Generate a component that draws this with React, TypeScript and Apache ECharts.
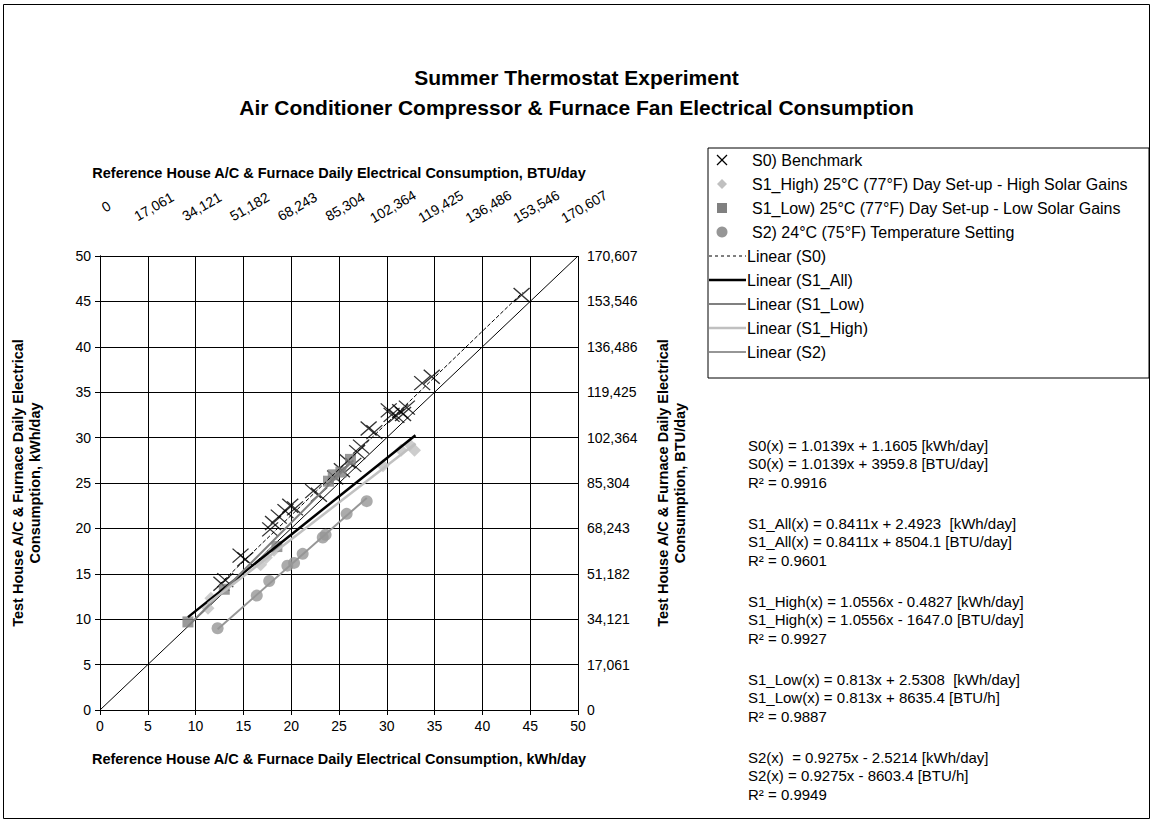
import React, { useEffect, useRef } from "react";
import * as echarts from "echarts";

const FONT = "'Liberation Sans', Arial, Helvetica, sans-serif";

const kwhTicks = ["0", "5", "10", "15", "20", "25", "30", "35", "40", "45", "50"];
const btuLabels = ["0", "17,061", "34,121", "51,182", "68,243", "85,304", "102,364", "119,425", "136,486", "153,546", "170,607"];

const s0Points = [
  [12.7, 13.9], [13.1, 14.3], [14.7, 17.0], [15.2, 16.6], [17.8, 19.9], [18.1, 20.6],
  [18.7, 21.3], [19.4, 21.9], [19.9, 22.5], [20.4, 22.2], [22.3, 24.1], [22.9, 23.7],
  [24.6, 25.6], [25.3, 26.4], [25.9, 27.4], [26.5, 27.0], [26.9, 28.4], [27.3, 29.0],
  [28.1, 31.0], [28.7, 30.6], [30.2, 33.0], [30.5, 32.5], [31.0, 32.4], [31.4, 32.9],
  [31.7, 32.6], [32.1, 33.3], [33.7, 36.0], [34.7, 36.7], [44.1, 45.7],
];
const s1HighPoints = [
  [11.3, 11.2], [11.6, 12.3], [16.8, 16.0], [17.4, 16.8], [18.2, 17.6],
  [29.6, 26.9], [31.5, 28.6], [32.4, 29.2], [32.9, 28.6],
];
const s1LowPoints = [
  [9.2, 9.7], [13.0, 13.3], [18.5, 18.0], [23.9, 25.2], [24.4, 25.9], [25.2, 26.2], [26.2, 27.6],
];
const s2Points = [
  [12.3, 9.0], [16.4, 12.6], [17.7, 14.2], [19.6, 15.9], [20.3, 16.2], [21.2, 17.2],
  [23.3, 19.0], [23.6, 19.3], [25.8, 21.6], [27.9, 23.0],
];
const parityLine = [[0, 0], [50, 50]];

const trendNames = ["Linear (S0)", "Linear (S1_All)", "Linear (S1_Low)", "Linear (S1_High)", "Linear (S2)"];
const trendSlopes = [1.0139, 0.8411, 1.0556, 0.813, 0.9275];
const trendIntercepts = [1.1605, 2.4923, -0.4827, 2.5308, -2.5214];
const trendXStart = [12.5, 9.2, 9.2, 11.3, 12.3];
const trendXEnd = [44.2, 33.0, 26.5, 33.0, 27.9];
const trendColors = ["#000000", "#000000", "#808080", "#c0c0c0", "#969696"];
const trendWidths = [1, 2.5, 2, 2.5, 2];
const trendTypes = ["dashed", "solid", "solid", "solid", "solid"];

const markerNames = [
  "S0) Benchmark",
  "S1_High) 25°C (77°F) Day Set-up - High Solar Gains",
  "S1_Low) 25°C (77°F) Day Set-up - Low Solar Gains",
  "S2) 24°C (75°F) Temperature Setting",
];

const equationGroups = [
  ["S0(x) = 1.0139x + 1.1605 [kWh/day]", "S0(x) = 1.0139x + 3959.8 [BTU/day]", "R² = 0.9916"],
  ["S1_All(x) = 0.8411x + 2.4923  [kWh/day]", "S1_All(x) = 0.8411x + 8504.1 [BTU/day]", "R² = 0.9601"],
  ["S1_High(x) = 1.0556x - 0.4827 [kWh/day]", "S1_High(x) = 1.0556x - 1647.0 [BTU/day]", "R² = 0.9927"],
  ["S1_Low(x) = 0.813x + 2.5308  [kWh/day]", "S1_Low(x) = 0.813x + 8635.4 [BTU/h]", "R² = 0.9887"],
  ["S2(x)  = 0.9275x - 2.5214 [kWh/day]", "S2(x) = 0.9275x - 8603.4 [BTU/h]", "R² = 0.9949"],
];

const XPATH = "path://M0,0L10,10M10,0L0,10";

function buildOption() {
  const tickIdx = (v: number) => Math.round(v / 5);
  const axisCommon = {
    type: "value",
    min: 0,
    max: 50,
    interval: 5,
    axisLine: { show: true, lineStyle: { color: "#000", width: 1 } },
    axisTick: { show: true, length: 5, lineStyle: { color: "#000" } },
    nameTextStyle: { fontWeight: "bold", fontSize: 14.5, color: "#000", fontFamily: FONT, lineHeight: 17 },
  };
  const labelCommon = { color: "#000", fontSize: 14, fontFamily: FONT };

  const series: any[] = [];
  series.push({
    type: "line",
    data: parityLine,
    symbol: "none",
    lineStyle: { color: "#000", width: 1 },
    z: 3,
    silent: true,
  });
  series.push({
    name: markerNames[0],
    type: "scatter",
    data: s0Points,
    symbol: XPATH,
    symbolSize: [16, 14],
    itemStyle: { color: "rgba(0,0,0,0)", borderColor: "#000", borderWidth: 1.3 },
    z: 4,
  });
  series.push({
    name: markerNames[1],
    type: "scatter",
    data: s1HighPoints,
    symbol: "diamond",
    symbolSize: 13,
    itemStyle: { color: "#c0c0c0" },
    z: 4,
  });
  series.push({
    name: markerNames[2],
    type: "scatter",
    data: s1LowPoints,
    symbol: "rect",
    symbolSize: 11,
    itemStyle: { color: "#808080" },
    z: 4,
  });
  series.push({
    name: markerNames[3],
    type: "scatter",
    data: s2Points,
    symbol: "circle",
    symbolSize: 12,
    itemStyle: { color: "#969696" },
    z: 4,
  });
  trendNames.forEach((n, i) => {
    const m = trendSlopes[i];
    const b = trendIntercepts[i];
    series.push({
      name: n,
      type: "line",
      data: [
        [trendXStart[i], m * trendXStart[i] + b],
        [trendXEnd[i], m * trendXEnd[i] + b],
      ],
      symbol: "none",
      lineStyle: { color: trendColors[i], width: trendWidths[i], type: trendTypes[i] },
      z: 5,
    });
  });

  // legend drawn as graphic
  const LX = 708, LY = 148, LW = 441, LH = 230;
  const rowY0 = 160, rowGap = 24;
  const g: any[] = [];
  g.push({ type: "rect", shape: { x: LX, y: LY, width: LW, height: LH }, style: { fill: "#fff", stroke: "#000", lineWidth: 1 }, z: 10 });
  const iconX = 722;
  const textX = 752;
  const legendFont = { fontSize: 16, fontFamily: FONT, fill: "#000" };
  g.push({ type: "line", shape: { x1: iconX - 5, y1: rowY0 - 5, x2: iconX + 5, y2: rowY0 + 5 }, style: { stroke: "#000", lineWidth: 1.2 }, z: 11 });
  g.push({ type: "line", shape: { x1: iconX + 5, y1: rowY0 - 5, x2: iconX - 5, y2: rowY0 + 5 }, style: { stroke: "#000", lineWidth: 1.2 }, z: 11 });
  const dY = rowY0 + rowGap;
  g.push({ type: "polygon", shape: { points: [[iconX, dY - 5], [iconX + 5, dY], [iconX, dY + 5], [iconX - 5, dY]] }, style: { fill: "#c0c0c0" }, z: 11 });
  const sY = rowY0 + rowGap * 2;
  g.push({ type: "rect", shape: { x: iconX - 5, y: sY - 5, width: 10, height: 10 }, style: { fill: "#808080" }, z: 11 });
  const cY = rowY0 + rowGap * 3;
  g.push({ type: "circle", shape: { cx: iconX, cy: cY, r: 5.5 }, style: { fill: "#969696" }, z: 11 });
  markerNames.forEach((n, i) => {
    g.push({ type: "text", x: textX, y: rowY0 + rowGap * i, style: { text: n, ...legendFont, verticalAlign: "middle", align: "left" }, z: 11 });
  });
  trendNames.forEach((n, i) => {
    const y = rowY0 + rowGap * (4 + i);
    g.push({
      type: "line",
      shape: { x1: LX + 1, y1: y, x2: 746, y2: y },
      style: { stroke: trendColors[i], lineWidth: trendWidths[i], lineDash: trendTypes[i] === "dashed" ? [3, 3] : null },
      z: 11,
    });
    g.push({ type: "text", x: 747, y, style: { text: n, ...legendFont, verticalAlign: "middle", align: "left" }, z: 11 });
  });

  // equations
  const eqStarts = [445, 523, 601, 679, 757];
  const eqOffsets = [0, 18, 37];
  equationGroups.forEach((grp, gi) => {
    grp.forEach((t, li) => {
      g.push({
        type: "text",
        x: 748,
        y: eqStarts[gi] + eqOffsets[li],
        style: { text: t, fontSize: 15, fontFamily: FONT, fill: "#000", verticalAlign: "middle" },
        z: 11,
      });
    });
  });

  // outer border
  g.push({ type: "rect", shape: { x: 3.5, y: 4.5, width: 1146, height: 814 }, style: { fill: "none", stroke: "#000", lineWidth: 1 }, z: 0, silent: true });

  return {
    animation: false,
    backgroundColor: "#fff",
    title: {
      text: "Summer Thermostat Experiment\nAir Conditioner Compressor & Furnace Fan Electrical Consumption",
      left: "center",
      top: 57,
      textStyle: { fontSize: 21, fontWeight: "bold", fontFamily: FONT, color: "#000", lineHeight: 30, align: "center" },
    },
    grid: { left: 100, top: 256, width: 478, height: 454, show: false },
    xAxis: [
      {
        ...axisCommon,
        position: "bottom",
        axisLabel: { ...labelCommon, margin: 9, formatter: (v: number) => kwhTicks[tickIdx(v)] },
        splitLine: { show: true, lineStyle: { color: "#000", width: 1 } },
        name: "Reference House A/C & Furnace Daily Electrical Consumption, kWh/day",
        nameLocation: "middle",
        nameGap: 40,
      },
      {
        ...axisCommon,
        position: "top",
        axisLabel: { ...labelCommon, margin: 46, rotate: 30, align: "center", verticalAlign: "middle", padding: [0, 0, 0, 14], formatter: (v: number) => btuLabels[tickIdx(v)] },
        splitLine: { show: false },
        name: "Reference House A/C & Furnace Daily Electrical Consumption, BTU/day",
        nameLocation: "middle",
        nameGap: 74,
      },
    ],
    yAxis: [
      {
        ...axisCommon,
        position: "left",
        axisLabel: { ...labelCommon, margin: 9, formatter: (v: number) => kwhTicks[tickIdx(v)] },
        splitLine: { show: true, lineStyle: { color: "#000", width: 1 } },
        name: "Test House A/C & Furnace Daily Electrical\nConsumption, kWh/day",
        nameLocation: "middle",
        nameGap: 57,
      },
      {
        ...axisCommon,
        position: "right",
        axisLabel: { ...labelCommon, margin: 9, formatter: (v: number) => btuLabels[tickIdx(v)] },
        splitLine: { show: false },
        name: "Test House A/C & Furnace Daily Electrical\nConsumption, BTU/day",
        nameLocation: "middle",
        nameGap: 76,
        nameRotate: 90,
      },
    ],
    series,
    graphic: { elements: g },
  };
}

export default function App() {
  const ref = useRef<HTMLDivElement>(null);
  useEffect(() => {
    document.body.style.margin = "0";
    const chart = echarts.init(ref.current!, null, { renderer: "svg" });
    chart.setOption(buildOption() as any);
    return () => chart.dispose();
  }, []);
  return <div ref={ref} style={{ width: 1153, height: 824 }} />;
}
